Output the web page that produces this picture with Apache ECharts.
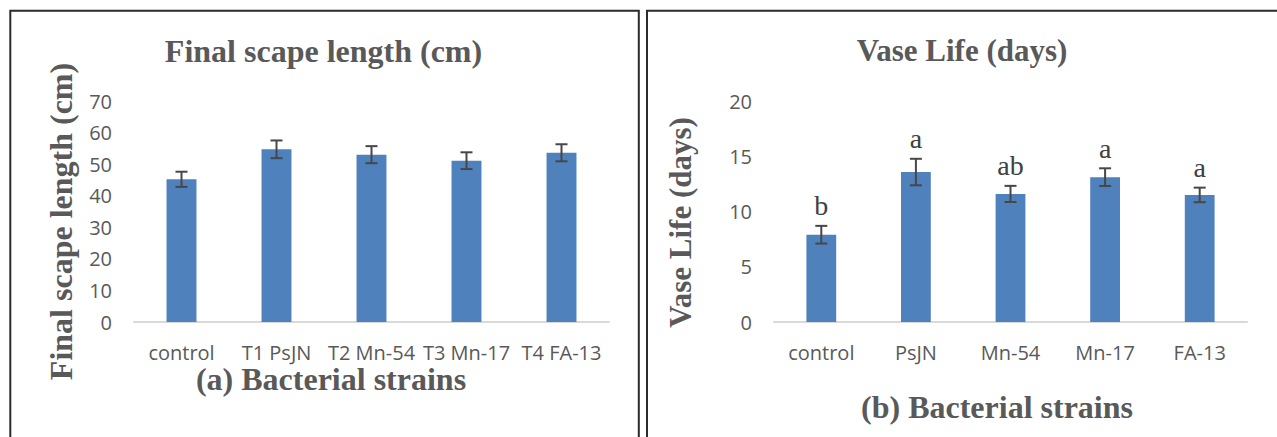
<!DOCTYPE html>
<html>
<head>
<meta charset="utf-8">
<script src="https://cdn.jsdelivr.net/npm/echarts@6/dist/echarts.min.js"></script>
<style>
html,body{margin:0;padding:0;background:#fff;}
#chart{width:1277px;height:437px;}
</style>
</head>
<body>
<div id="chart"></div>
<script>
// Panel (a): Final scape length (cm)
const categoriesA = ['control', 'T1 PsJN', 'T2 Mn-54', 'T3 Mn-17', 'T4 FA-13'];
const valuesA = [45.2, 54.7, 53.0, 51.1, 53.6];
const errorsA = [2.4, 2.8, 2.7, 2.65, 2.7];
const ticksA = { min: 0, max: 70, interval: 10 };

// Panel (b): Vase Life (days)
const categoriesB = ['control', 'PsJN', 'Mn-54', 'Mn-17', 'FA-13'];
const valuesB = [7.9, 13.57, 11.59, 13.11, 11.5];
const errorsB = [0.8, 1.2, 0.73, 0.8, 0.66];
const lettersB = ['b', 'a', 'ab', 'a', 'a'];
const ticksB = { min: 0, max: 20, interval: 5 };

const BAR = '#4F81BD';
const GREY = '#595959';
const ERR = '#474747';
const serif = '"Liberation Serif", "Times New Roman", serif';
const sans = '"Open Sans", sans-serif';

function errData(vals, errs) {
  return vals.map((v, i) => [i, v - errs[i], v + errs[i]]);
}

function makeErrRender(letters) {
  return function (params, api) {
    const i = api.value(0);
    const lo = api.coord([i, api.value(1)]);
    const hi = api.coord([i, api.value(2)]);
    const hw = 6;
    const st = { stroke: ERR, lineWidth: 2 };
    const children = [
      { type: 'line', shape: { x1: hi[0], y1: hi[1], x2: lo[0], y2: lo[1] }, style: st },
      { type: 'line', shape: { x1: hi[0] - hw, y1: hi[1], x2: hi[0] + hw, y2: hi[1] }, style: st },
      { type: 'line', shape: { x1: lo[0] - hw, y1: lo[1], x2: lo[0] + hw, y2: lo[1] }, style: st }
    ];
    if (letters) {
      children.push({
        type: 'text',
        x: hi[0],
        y: hi[1] - 20,
        style: {
          text: letters[params.dataIndex],
          font: '28px ' + serif,
          fill: '#404040',
          align: 'center',
          verticalAlign: 'middle',
          textAlign: 'center',
          textVerticalAlign: 'middle'
        }
      });
    }
    return { type: 'group', children: children };
  };
}

function valueAxis(idx, t) {
  return {
    type: 'value', gridIndex: idx, min: t.min, max: t.max, interval: t.interval,
    splitLine: { show: false }, axisLine: { show: false }, axisTick: { show: false },
    axisLabel: { color: GREY, fontSize: 20, fontFamily: sans, margin: 22 }
  };
}
function catAxis(idx, cats) {
  return {
    type: 'category', gridIndex: idx, data: cats,
    axisLine: { show: true, lineStyle: { color: '#D9D9D9', width: 2 } },
    axisTick: { show: false },
    axisLabel: { color: GREY, fontSize: 20, fontFamily: sans, margin: 20, interval: 0 }
  };
}

function txt(text, x, y, size, rot) {
  return {
    type: 'text', x: x, y: y, rotation: rot || 0,
    style: {
      text: text, font: 'bold ' + size + 'px ' + serif, fill: GREY,
      align: 'center', verticalAlign: 'middle',
      textAlign: 'center', textVerticalAlign: 'middle'
    }
  };
}

const chart = echarts.init(document.getElementById('chart'), null, { renderer: 'svg' });
chart.setOption({
  animation: false,
  backgroundColor: '#fff',
  grid: [
    { left: 134, right: 668, top: 101, bottom: 115 },
    { left: 774, right: 30, top: 101, bottom: 115 }
  ],
  xAxis: [catAxis(0, categoriesA), catAxis(1, categoriesB)],
  yAxis: [valueAxis(0, ticksA), valueAxis(1, ticksB)],
  series: [
    { type: 'bar', xAxisIndex: 0, yAxisIndex: 0, data: valuesA, barWidth: '31.5%',
      itemStyle: { color: BAR } },
    { type: 'custom', xAxisIndex: 0, yAxisIndex: 0, data: errData(valuesA, errorsA),
      renderItem: makeErrRender(null), z: 5 },
    { type: 'bar', xAxisIndex: 1, yAxisIndex: 1, data: valuesB, barWidth: '31.5%',
      itemStyle: { color: BAR } },
    { type: 'custom', xAxisIndex: 1, yAxisIndex: 1, data: errData(valuesB, errorsB),
      renderItem: makeErrRender(lettersB), z: 5 }
  ],
  graphic: [
    { type: 'rect', shape: { x: 10.3, y: 10.8, width: 628.5, height: 450 },
      style: { fill: 'none', stroke: '#2b2b2b', lineWidth: 2 } },
    { type: 'rect', shape: { x: 647, y: 10.8, width: 640, height: 450 },
      style: { fill: 'none', stroke: '#2b2b2b', lineWidth: 2 } },
    txt('Final scape length (cm)', 323.5, 51, 32),
    txt('Vase Life (days)', 962, 50, 31),
    txt('Final scape length (cm)', 61, 221.5, 32, Math.PI / 2),
    txt('Vase Life (days)', 680, 222.5, 31, Math.PI / 2),
    txt('(a) Bacterial strains', 331, 379, 32),
    txt('(b) Bacterial strains', 997, 407, 32)
  ]
});
</script>
</body>
</html>
